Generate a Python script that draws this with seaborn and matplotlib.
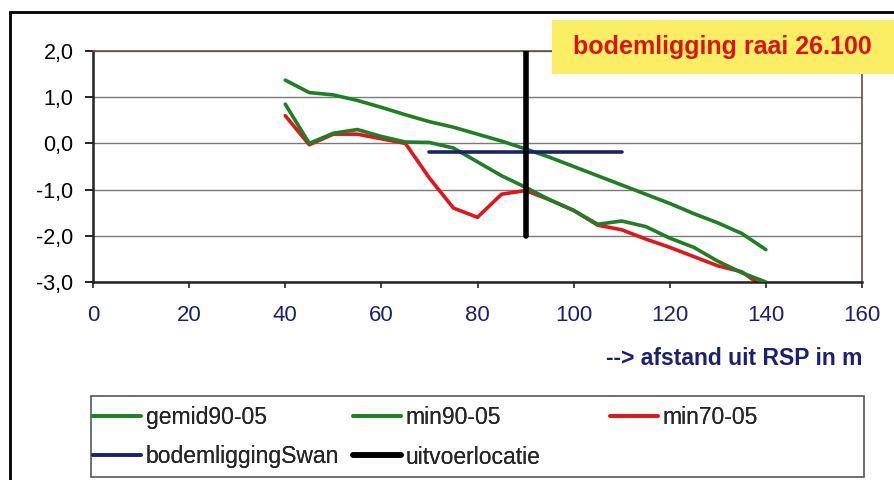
import numpy as np
import pandas as pd
import matplotlib.pyplot as plt
import seaborn as sns
from matplotlib.patches import Rectangle

# afstand uit RSP (m)
afstand = [40, 45, 50, 55, 60, 65, 70, 75, 80, 85, 90, 95, 100,
           105, 110, 115, 120, 125, 130, 135, 140]
gemid90_05 = [1.37, 1.10, 1.05, 0.93, 0.78, 0.62, 0.47, 0.35, 0.20, 0.05, -0.12,
              -0.30, -0.50, -0.70, -0.90, -1.10, -1.30, -1.52, -1.72, -1.95, -2.30]
min90_05 = [0.85, 0.00, 0.22, 0.30, 0.15, 0.03, 0.02, -0.10, -0.40, -0.70, -0.95,
            -1.22, -1.45, -1.75, -1.68, -1.80, -2.05, -2.25, -2.55, -2.80, -3.00]
afstand_70 = [40, 45, 50, 55, 60, 65, 70, 75, 80, 85, 90, 95, 100,
              105, 110, 115, 120, 125, 130, 135, 138]
min70_05 = [0.60, -0.03, 0.20, 0.20, 0.10, 0.00, -0.75, -1.40, -1.60, -1.10, -1.02,
            -1.22, -1.45, -1.77, -1.87, -2.07, -2.25, -2.45, -2.65, -2.78, -3.00]
swan_x = [70, 110]
swan_y = [-0.18, -0.18]
uitvoer_x = [90, 90]
uitvoer_y = [2.0, -2.0]

x_ticks = [0, 20, 40, 60, 80, 100, 120, 140, 160]
y_ticks = [-3, -2, -1, 0, 1, 2]
y_tick_labels = ['-3,0', '-2,0', '-1,0', '0,0', '1,0', '2,0']

sns.set_style('white')
plt.rcParams['font.family'] = ['Liberation Sans', 'DejaVu Sans']

W, H = 894, 480
fig = plt.figure(figsize=(W / 100, H / 100), dpi=100)
ax = fig.add_axes([93 / W, 1 - 282 / H, (862 - 93) / W, (282 - 51) / H])

groen = '#1f7f24'
rood = '#e3151b'
navy = '#1b2170'

sns.lineplot(x=afstand, y=gemid90_05, color=groen, lw=2.6, label='gemid90-05', ax=ax, zorder=3)
sns.lineplot(x=afstand, y=min90_05, color=groen, lw=2.6, label='min90-05', ax=ax, zorder=3)
sns.lineplot(x=afstand_70, y=min70_05, color=rood, lw=2.6, label='min70-05', ax=ax, zorder=2)
sns.lineplot(x=swan_x, y=swan_y, color=navy, lw=2.6, label='bodemliggingSwan', ax=ax, zorder=4)
sns.lineplot(x=uitvoer_x, y=uitvoer_y, color='black', lw=4, label='uitvoerlocatie',
             estimator=None, sort=False, ax=ax, zorder=5)

ax.set_xlim(0, 160)
ax.set_ylim(-3, 2)
ax.set_xticks(x_ticks)
ax.set_yticks(y_ticks)
ax.set_yticklabels(y_tick_labels)
ax.yaxis.grid(True, color='#7a7a7a', lw=1)
ax.set_axisbelow(True)
ax.tick_params(axis='y', direction='out', length=6, width=1.2, pad=8,
               labelsize=15.5, colors='black', left=True)
ax.tick_params(axis='x', direction='out', length=4.5, width=1.2, pad=12,
               labelsize=16, labelcolor=navy, bottom=True)
ax.set_xlabel('--> afstand uit RSP in m', fontsize=16.5, fontweight='bold', color=navy)
ax.xaxis.set_label_coords(1.0, -0.28)
ax.xaxis.label.set_horizontalalignment('right')
ax.set_ylabel('')

for side in ['left', 'bottom']:
    ax.spines[side].set_color('#222222')
    ax.spines[side].set_linewidth(1.8)
for side in ['top', 'right']:
    ax.spines[side].set_color('#6b4848')
    ax.spines[side].set_linewidth(1.2)

# legenda, drie kolommen zoals in Excel
handles, labels = ax.get_legend_handles_labels()
ax.get_legend().remove()
h = dict(zip(labels, handles))
kolommen = [['gemid90-05', 'bodemliggingSwan'], ['min90-05', 'uitvoerlocatie'], ['min70-05']]
kol_x = [93, 353, 610]
for names, xk in zip(kolommen, kol_x):
    leg = fig.legend([h[n] for n in names], names, loc='upper left',
                     bbox_to_anchor=(xk / W, 1 - 406 / H), frameon=False,
                     fontsize=16.5, handlelength=2.1, handletextpad=0.2,
                     labelspacing=0.72, borderpad=0, borderaxespad=0)
    fig.add_artist(leg)
fig.add_artist(Rectangle((91 / W, 1 - 477 / H), (864 - 91) / W, (477 - 396) / H,
                         transform=fig.transFigure, fill=False, ec='#555555', lw=1.2))

# kader om de figuur
fig.add_artist(Rectangle((10 / W, -0.05), 1.0, 1.05 - 12 / H,
                         transform=fig.transFigure, fill=False, ec='black', lw=2))

# titelblok
fig.add_artist(Rectangle((552 / W, 1 - 74 / H), 1.0, 54 / H, transform=fig.transFigure,
                         fc='#fbee64', ec='none', zorder=10))
fig.text(722 / W, 1 - 47 / H, 'bodemligging raai 26.100', fontsize=18, fontweight='bold',
         color='#d9141b', ha='center', va='center', zorder=11)

plt.savefig('out.png', dpi=100)
